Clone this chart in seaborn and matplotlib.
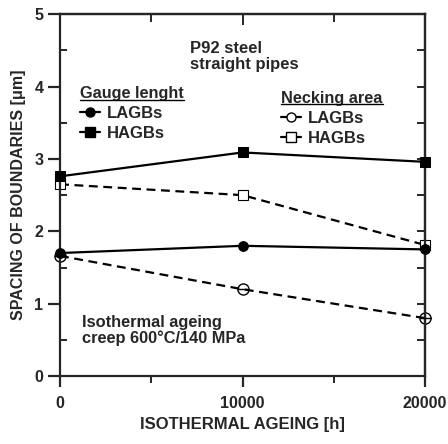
import numpy as np
import pandas as pd
import matplotlib
matplotlib.use("Agg")
import matplotlib.pyplot as plt
import seaborn as sns
from matplotlib.lines import Line2D
from matplotlib.ticker import MultipleLocator

# data
hours = [0, 10000, 20000]
gauge_lagb = [1.70, 1.80, 1.75]
gauge_hagb = [2.76, 3.09, 2.96]
neck_lagb = [1.66, 1.20, 0.80]
neck_hagb = [2.65, 2.50, 1.81]

sns.set_style("ticks")
plt.rcParams["font.family"] = ["Liberation Sans", "DejaVu Sans"]
plt.rcParams["font.weight"] = "bold"

fig = plt.figure(figsize=(4.48, 4.44), dpi=100)
ax = fig.add_axes([0.134, 0.153, 0.815, 0.815])

lw = 1.6
dash = (0, (4, 2.5))
sns.lineplot(x=hours, y=gauge_hagb, ax=ax, color="black", lw=lw, marker="s",
             markersize=7, markeredgecolor="black", zorder=3, clip_on=False)
sns.lineplot(x=hours, y=gauge_lagb, ax=ax, color="black", lw=lw, marker="o",
             markersize=7, markeredgecolor="black", zorder=3, clip_on=False)
sns.lineplot(x=hours, y=neck_hagb, ax=ax, color="black", lw=lw, linestyle=dash,
             marker="s", markersize=7, markerfacecolor="white", markeredgecolor="black",
             markeredgewidth=0.8, zorder=2, clip_on=False)
sns.lineplot(x=hours, y=neck_lagb, ax=ax, color="black", lw=lw, linestyle=dash,
             marker="o", markersize=8, markerfacecolor="none", markeredgecolor="black",
             markeredgewidth=1.0, zorder=2, clip_on=False)
# bar through open circles
for x, y in zip(hours, neck_lagb):
    ax.plot([x - 300, x + 300], [y, y], color="black", lw=1.0, zorder=4, clip_on=False)

ax.set_xlim(0, 20000)
ax.set_ylim(0, 5)
ax.set_xticks([0, 10000, 20000])
ax.set_yticks([0, 1, 2, 3, 4, 5])
ax.xaxis.set_minor_locator(MultipleLocator(5000))
ax.yaxis.set_minor_locator(MultipleLocator(0.5))
for s in ax.spines.values():
    s.set_linewidth(1.6)
ax.tick_params(axis="both", which="major", width=1.6, labelsize=11.5)
ax.tick_params(axis="y", which="major", direction="out", length=9, pad=3)
ax.tick_params(axis="y", which="minor", direction="in", length=5, width=1.4)
ax.tick_params(axis="x", which="major", direction="out", length=8, pad=6)
ax.tick_params(axis="x", which="minor", direction="out", length=5, width=1.4)
for lab in ax.get_xticklabels() + ax.get_yticklabels():
    lab.set_fontweight("bold")

sec_y = ax.secondary_yaxis("right")
sec_y.set_yticks([0, 1, 2, 3, 4, 5])
sec_y.yaxis.set_minor_locator(MultipleLocator(0.5))
sec_y.tick_params(which="both", direction="in", length=6, width=1.4, labelright=False)
sec_y.spines["right"].set_linewidth(1.6)
sec_x = ax.secondary_xaxis("top")
sec_x.set_xticks([0, 10000, 20000])
sec_x.xaxis.set_minor_locator(MultipleLocator(5000))
sec_x.tick_params(which="major", direction="in", length=8, width=1.4, labeltop=False)
sec_x.tick_params(which="minor", direction="in", length=6, width=1.4)
sec_x.spines["top"].set_linewidth(1.6)

ax.set_xlabel("ISOTHERMAL AGEING [h]", fontsize=12, fontweight="bold", labelpad=5)
ax.set_ylabel("SPACING OF BOUNDARIES [\u03bcm]", fontsize=11.5, fontweight="bold", labelpad=6)

ax.text(0.355, 0.925, "P92 steel\nstraight pipes", transform=ax.transAxes,
        fontsize=12, fontweight="bold", va="top", ha="left", linespacing=1.05)
ax.text(0.06, 0.17, "Isothermal ageing\ncreep 600\u00b0C/140 MPa", transform=ax.transAxes,
        fontsize=11.8, fontweight="bold", va="top", ha="left", linespacing=1.05)

def mk(marker, fill, ls="-"):
    return Line2D([0], [0], color="black", lw=1.6, ls=ls, marker=marker, markersize=6.5,
                  markerfacecolor=fill, markeredgecolor="black")

leg_kw = dict(loc="upper left", frameon=False, handlelength=1.2, handletextpad=0.4,
              borderpad=0, labelspacing=0.3, prop={"size": 12, "weight": "bold"},
              title_fontproperties={"size": 11.7, "weight": "bold"})
leg1 = ax.legend([mk("o", "black"), mk("s", "black")], ["LAGBs", "HAGBs"],
                 title="Gauge lenght", bbox_to_anchor=(0.033, 0.825), **leg_kw)
leg1._legend_box.align = "left"
ax.add_artist(leg1)
leg2 = ax.legend([mk("o", "white"), mk("s", "white")], ["LAGBs", "HAGBs"],
                 title="Necking area", bbox_to_anchor=(0.583, 0.812), **leg_kw)
leg2._legend_box.align = "left"

# underline legend titles
fig.canvas.draw()
inv = fig.transFigure.inverted()
for lg in (leg1, leg2):
    bb = lg.get_title().get_window_extent()
    (x0, y0), (x1, _) = inv.transform([[bb.x0, bb.y0], [bb.x1, bb.y1]])
    fig.add_artist(Line2D([x0, x1], [y0 + 0.003, y0 + 0.003], color="black", lw=1.0,
                          transform=fig.transFigure))

fig.savefig("out.png", dpi=100)
